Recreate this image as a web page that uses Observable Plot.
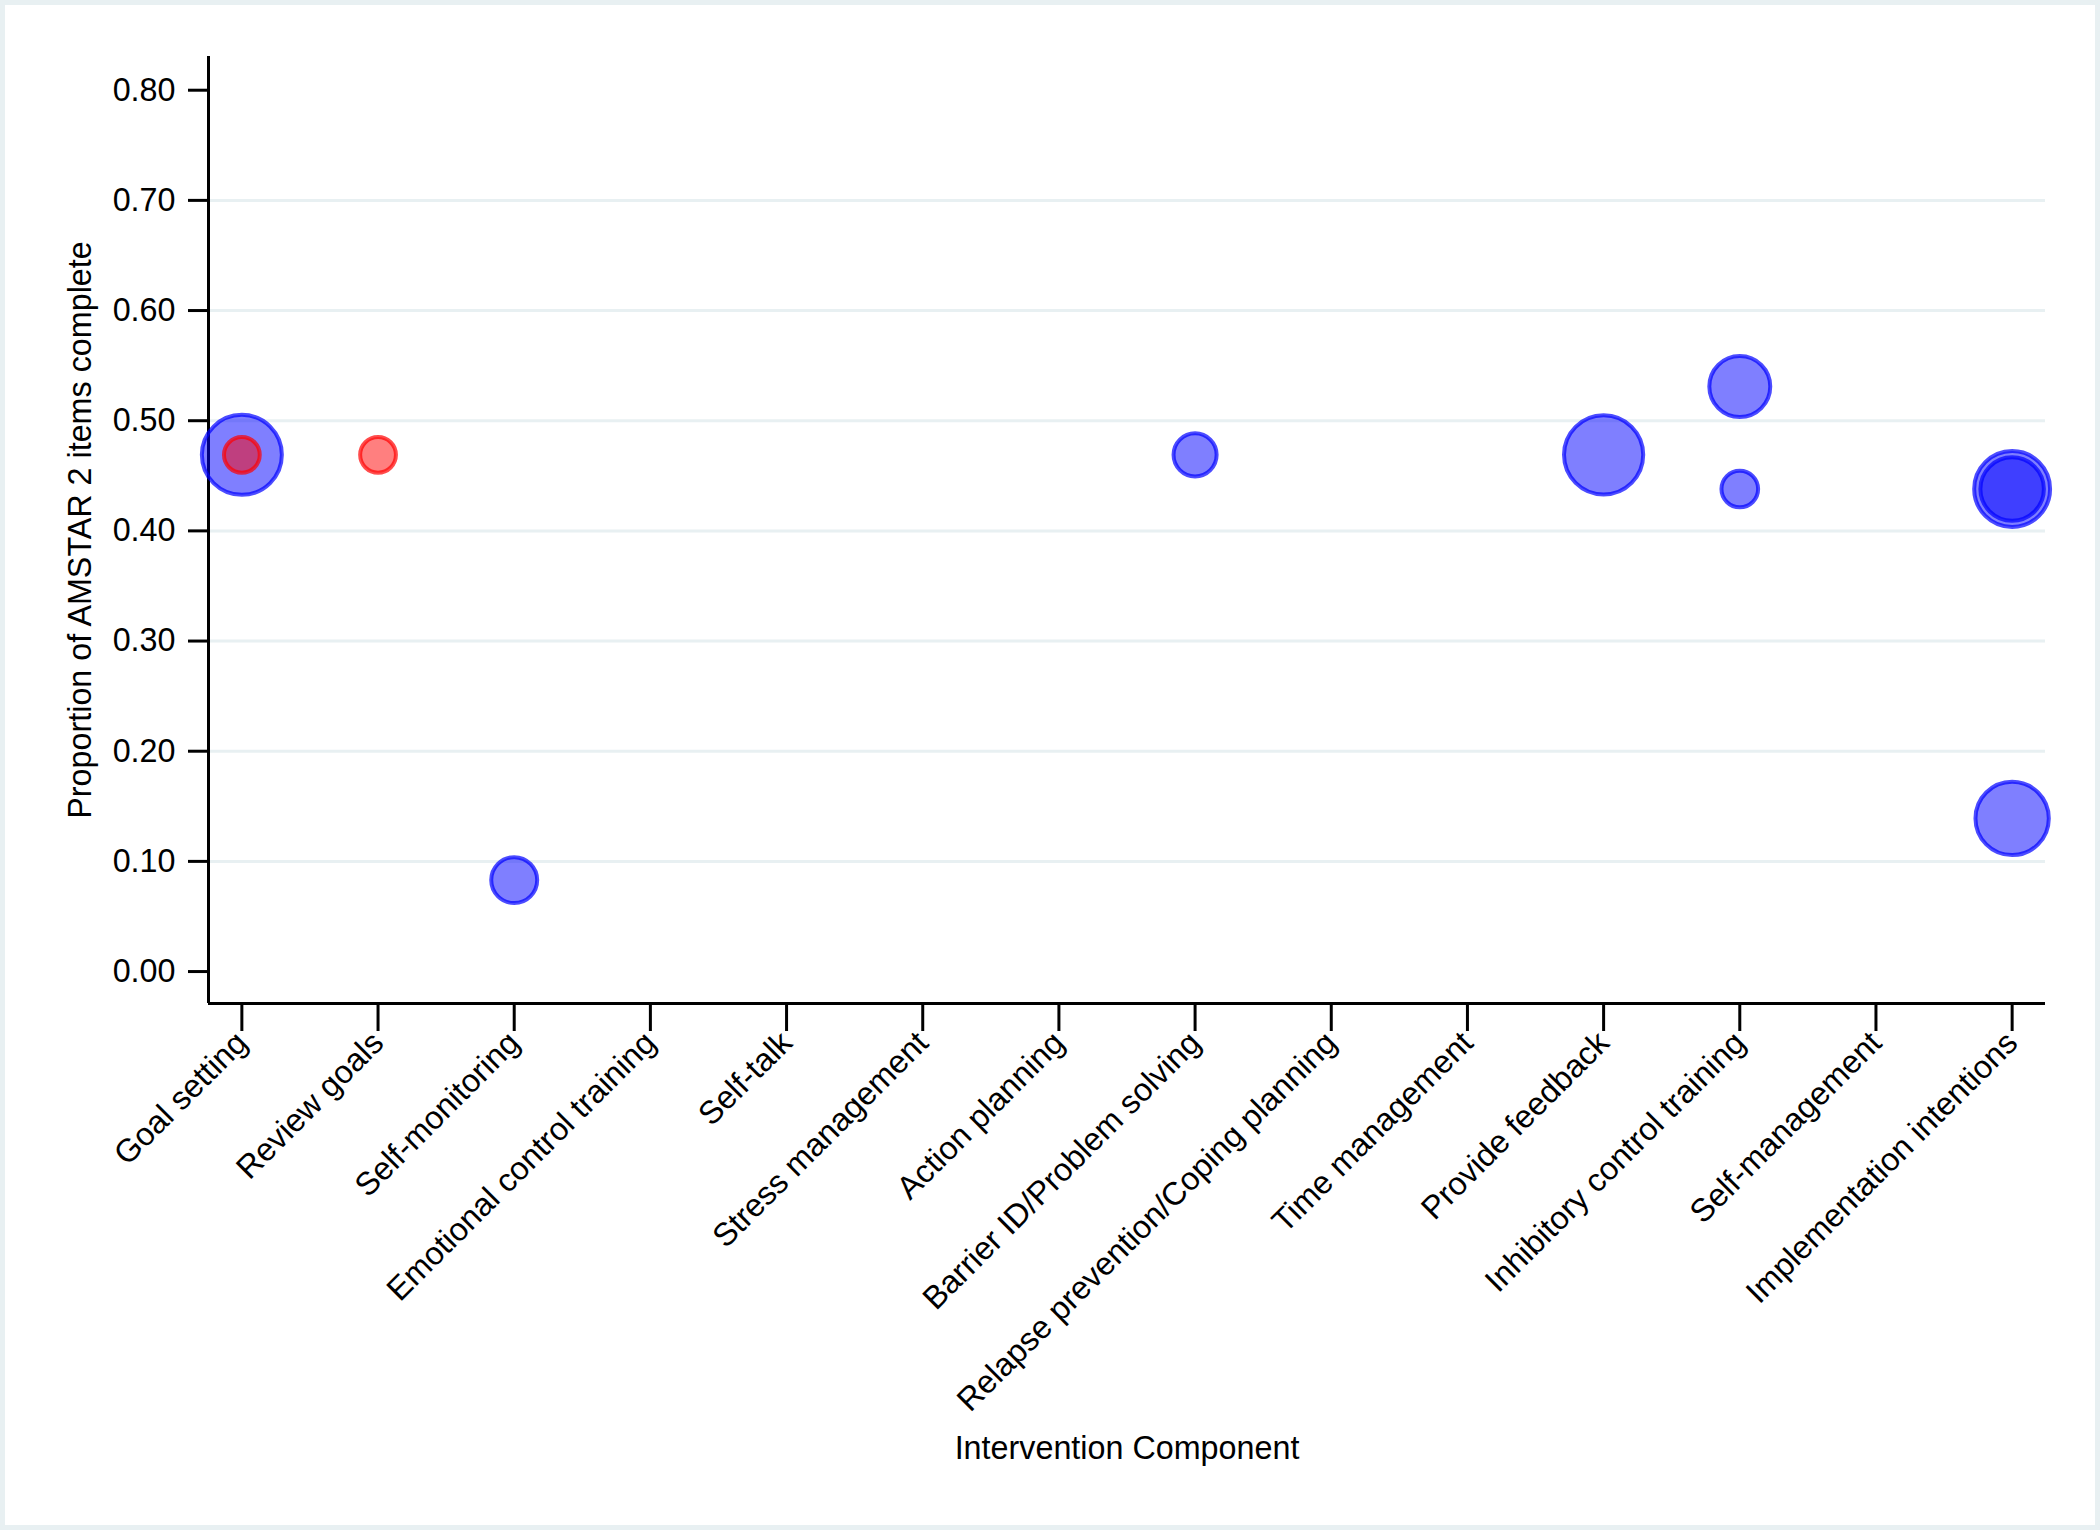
<!DOCTYPE html>
<html>
<head>
<meta charset="utf-8">
<script src="https://cdn.jsdelivr.net/npm/d3@7"></script>
<script src="https://cdn.jsdelivr.net/npm/@observablehq/plot@0.6"></script>
<style>
html, body { margin: 0; padding: 0; background: #ffffff; }
#wrap { position: relative; width: 2100px; height: 1530px; overflow: hidden; background: #ffffff; }
#frame { position: absolute; left: 0; top: 0; width: 2100px; height: 1530px; box-sizing: border-box; border: 5px solid #e8f0f2; pointer-events: none; }
#chart svg { font-family: "Liberation Sans", Arial, sans-serif; }
</style>
</head>
<body>
<div id="wrap"><div id="chart"></div><div id="frame"></div></div>
<script>
// Categories on the x axis (tick labels)
const components = [
  "Goal setting",
  "Review goals",
  "Self-monitoring",
  "Emotional control training",
  "Self-talk",
  "Stress management",
  "Action planning",
  "Barrier ID/Problem solving",
  "Relapse prevention/Coping planning",
  "Time management",
  "Provide feedback",
  "Inhibitory control training",
  "Self-management",
  "Implementation intentions"
];

// Y tick labels
const yTicks = [0, 0.1, 0.2, 0.3, 0.4, 0.5, 0.6, 0.7, 0.8];
const gridValues = [0.1, 0.2, 0.3, 0.4, 0.5, 0.6, 0.7];

// Bubbles
const pointComponent = [
  "Goal setting", "Goal setting", "Review goals", "Self-monitoring",
  "Barrier ID/Problem solving", "Provide feedback",
  "Inhibitory control training", "Inhibitory control training",
  "Implementation intentions", "Implementation intentions", "Implementation intentions"
];
const pointProportion = [0.469, 0.469, 0.469, 0.083, 0.469, 0.469, 0.531, 0.438, 0.438, 0.438, 0.139];
const pointWeight     = [100,   20,    20,    33,    29,    98,    58,    21,    90,    63,    84];
const pointSeries     = ["Series 1", "Series 2", "Series 2", "Series 1", "Series 1", "Series 1",
                         "Series 1", "Series 1", "Series 1", "Series 1", "Series 1"];

const seriesNames = ["Series 1", "Series 2"];
const seriesColors = ["#0000ff", "#ff0000"];

const data = pointComponent.map((c, i) => ({
  component: c,
  idx: components.indexOf(c),
  proportion: pointProportion[i],
  weight: pointWeight[i],
  series: pointSeries[i]
}));

const xLo = -0.245, xHi = components.length - 1 + 0.245;
const yLo = -0.029, yHi = 0.8306;
const FS = 32.3;

const chart = Plot.plot({
  width: 2100,
  height: 1530,
  marginLeft: 208,
  marginRight: 55,
  marginTop: 56,
  marginBottom: 527,
  style: { fontFamily: '"Liberation Sans", Arial, sans-serif', background: "transparent" },
  x: { type: "linear", domain: [xLo, xHi], axis: null },
  y: { type: "linear", domain: [yLo, yHi], axis: null },
  r: { type: "sqrt", domain: [0, 100], range: [0, 40] },
  color: { domain: seriesNames, range: seriesColors },
  marks: [
    Plot.ruleY(gridValues, { stroke: "#e8f0f2", strokeWidth: 3 }),
    Plot.axisY({
      ticks: yTicks,
      tickFormat: d3.format(".2f"),
      tickSize: 20,
      tickPadding: 13,
      strokeWidth: 3,
      fontSize: FS,
      label: null
    }),
    Plot.axisX({
      ticks: d3.range(components.length),
      tickFormat: i => components[i],
      tickSize: 28,
      tickPadding: 6,
      tickRotate: -45,
      strokeWidth: 3,
      fontSize: FS,
      label: null
    }),
    Plot.ruleX([xLo], { stroke: "#000", strokeWidth: 3 }),
    Plot.ruleY([yLo], { stroke: "#000", strokeWidth: 3 }),
    Plot.dot(data, {
      x: "idx",
      y: "proportion",
      r: "weight",
      fill: "series",
      fillOpacity: 0.5,
      stroke: "series",
      strokeOpacity: 0.7,
      strokeWidth: 4
    }),
    Plot.text(["Proportion of AMSTAR 2 items complete"], {
      frameAnchor: "left", dx: -128, rotate: -90, textAnchor: "middle", lineAnchor: "middle",
      fontSize: FS, fill: "#000"
    }),
    Plot.text(["Intervention Component"], {
      frameAnchor: "bottom", dy: 445, textAnchor: "middle", lineAnchor: "middle",
      fontSize: FS, fill: "#000"
    })
  ]
});

document.getElementById("chart").appendChild(chart);
</script>
</body>
</html>
